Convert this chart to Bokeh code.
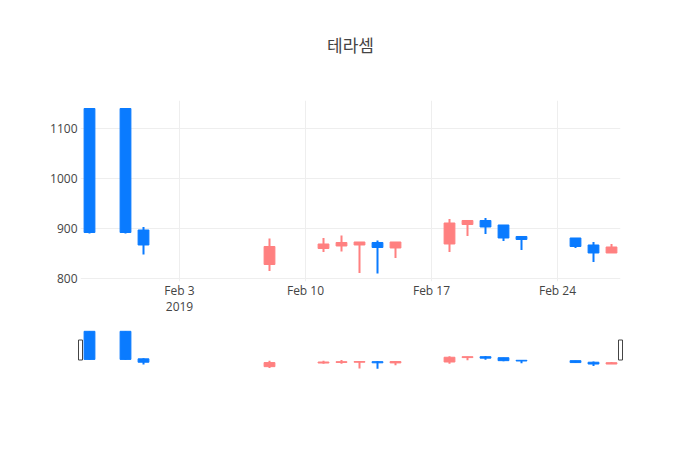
import pandas as pd
from bokeh.plotting import figure
from bokeh.models import Range1d, FixedTicker, ColumnDataSource
from bokeh.layouts import column, row
from bokeh.core.properties import value
from bokeh.embed import file_html
from bokeh.resources import INLINE

# ---- data ----
dates = ["2019-01-29", "2019-01-31", "2019-02-01", "2019-02-08", "2019-02-11",
         "2019-02-12", "2019-02-13", "2019-02-14", "2019-02-15", "2019-02-18",
         "2019-02-19", "2019-02-20", "2019-02-21", "2019-02-22", "2019-02-25",
         "2019-02-26", "2019-02-27"]
open_ = [1140, 1140, 897, 828, 860, 865, 867, 872, 861, 869, 908, 916, 907, 884, 881, 867, 851]
close = [892, 892, 867, 864, 869, 872, 873, 862, 873, 911, 916, 903, 881, 878, 864, 851, 863]
high = [1140, 1140, 903, 880, 881, 886, 873, 876, 873, 919, 916, 921, 907, 884, 881, 873, 869]
low = [890, 890, 848, 815, 853, 854, 811, 810, 841, 853, 885, 889, 875, 857, 861, 833, 851]

x_tick_dates = ["2019-02-03", "2019-02-10", "2019-02-17", "2019-02-24"]
x_tick_labels = ["Feb 3\n2019", "Feb 10", "Feb 17", "Feb 24"]
y_ticks = [800, 900, 1000, 1100]
title_text = "테라셈"

UP = "#ff8080"
DOWN = "#0a7bff"
DAY = 86400000.0

def ms(s):
    return pd.Timestamp(s).value / 1e6

xs = [ms(d) for d in dates]
colors = [UP if c > o else DOWN for o, c in zip(open_, close)]
src = ColumnDataSource(dict(x=xs, open=open_, close=close, high=high, low=low,
                            top=[max(o, c) for o, c in zip(open_, close)],
                            bottom=[min(o, c) for o, c in zip(open_, close)],
                            color=colors))

x0 = min(xs) - 0.5 * DAY
x1 = max(xs) + 0.5 * DAY
pad_y = (max(high) - min(low)) * 0.0485
y0 = min(low) - pad_y
y1 = max(high) + pad_y

FONT = "Open Sans"
TXT = "#444444"

def draw(fig):
    fig.segment(x0="x", y0="low", x1="x", y1="high", line_color="color", line_width=2, source=src)
    fig.vbar(x="x", width=0.6 * DAY, top="top", bottom="bottom", fill_color="color",
             line_color="color", line_width=1, source=src)

# ---- header with title ----
HEAD_H = 70
h = figure(width=700, height=HEAD_H, x_range=Range1d(0, 1), y_range=Range1d(0, HEAD_H),
           output_backend="svg", toolbar_location=None, x_axis_location=None, y_axis_location=None,
           min_border=0)
h.outline_line_color = None
h.grid.visible = False
h.text(x=[0.5], y=[HEAD_H - 44], text=[title_text], text_font=value("Noto Sans CJK KR"),
       text_font_size="17px", text_color=TXT, text_align="center", text_baseline="middle")

# ---- main chart ----
p = figure(width=700, height=329 - HEAD_H, x_range=Range1d(x0, x1), y_range=Range1d(y0, y1),
           output_backend="svg", toolbar_location=None,
           min_border_left=80, min_border_right=80, min_border_top=100 - HEAD_H, min_border_bottom=48)
p.outline_line_color = None

draw(p)

tick_ms = [ms(d) for d in x_tick_dates]
p.xaxis.ticker = FixedTicker(ticks=tick_ms)
p.xaxis.major_label_overrides = {t: l for t, l in zip(tick_ms, x_tick_labels)}
p.yaxis.ticker = FixedTicker(ticks=y_ticks)
for ax in (p.xaxis, p.yaxis):
    ax.axis_line_color = None
    ax.major_tick_line_color = None
    ax.minor_tick_line_color = None
    ax.major_tick_out = 0
    ax.major_tick_in = 0
    ax.minor_tick_out = 0
    ax.minor_tick_in = 0
    ax.major_label_text_font = FONT
    ax.major_label_text_font_size = "12px"
    ax.major_label_text_color = TXT
p.xaxis.major_label_standoff = 0
p.xaxis.major_label_text_line_height = 0.95
p.yaxis.major_label_standoff = 3
p.xgrid.grid_line_color = "#eeeeee"
p.ygrid.grid_line_color = "#eeeeee"

# ---- range slider ----
xpad = (x1 - x0) * 3.0 / 540.0
s = figure(width=700, height=49, x_range=Range1d(x0 - xpad, x1 + xpad), y_range=Range1d(y0, y1),
           output_backend="svg", toolbar_location=None, x_axis_location=None, y_axis_location=None,
           min_border_left=77, min_border_right=77, min_border_top=0, min_border_bottom=8)
s.outline_line_color = None
s.grid.visible = False
draw(s)
s.rect(x=[x0, x1], y=[(y0 + y1) / 2] * 2, width=4, height=20, width_units="screen",
       height_units="screen", fill_color="white", line_color="#444444", line_width=1)

layout = column(row(h), p, row(s))
open("out.html", "w").write(file_html(layout, INLINE))
